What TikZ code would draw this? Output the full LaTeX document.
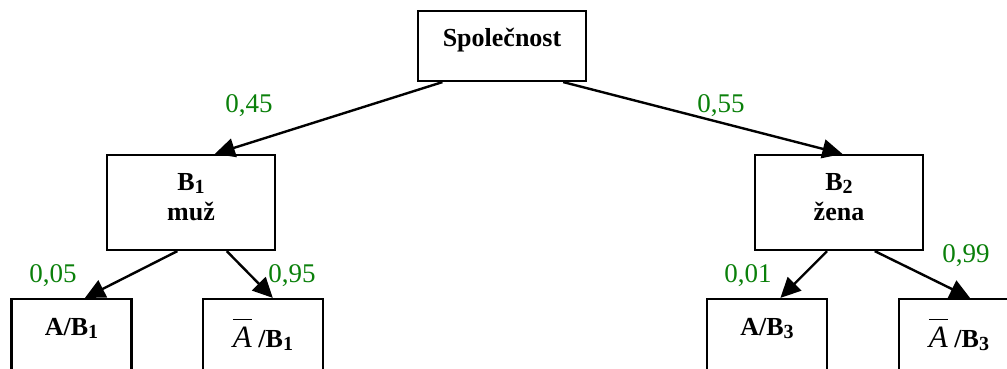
\documentclass[tikz,border=0pt]{standalone}
\usepackage{fontspec}
\setmainfont{Liberation Serif}
\usetikzlibrary{calc}
\usetikzlibrary{arrows.meta}

\definecolor{probgreen}{RGB}{10,128,10}
\newcommand{\idx}[1]{\raisebox{-0.25ex}{\fontsize{20}{20}\selectfont#1}}
\newcommand{\nonA}{\vbox{\hrule height 1.3pt width 19pt \kern 7pt \hbox{\fontsize{31}{31}\selectfont\mdseries\itshape A}}}

\begin{document}
\begin{tikzpicture}[x=1pt, y=-1pt,
    box/.style={rectangle, draw=black, line width=2.2pt, minimum width=168pt, minimum height=95pt},
    leaf/.style={rectangle, draw=black, line width=2.2pt, minimum width=120pt, minimum height=120pt},
    txt/.style={inner sep=0pt, align=center, font=\bfseries\fontsize{26}{30}\selectfont},
    prob/.style={inner sep=0pt, text=probgreen, font=\fontsize{27}{30}\selectfont},
    edge/.style={line width=2.4pt, -{Triangle[length=20pt, width=19pt]}}]
            \clip (0, 0) rectangle (1007, 369);
            % levels of the tree
            \node[box, minimum height=70pt,
                label={[txt, anchor=base, yshift=-37pt]north:Společnost}] (root) at (502, 46) {};
            \node[box, label={[txt, anchor=north, yshift=-19pt]north:B\idx{1}\\muž}] (bone) at (191, 202.5) {};
            \node[box, label={[txt, anchor=north, yshift=-19pt]north:B\idx{2}\\žena}] (btwo) at (839, 202.5) {};
            \node[leaf, label={[txt, anchor=base, yshift=-38pt]north:A/B\idx{1}}] (aone) at (71.5, 359) {};
            \node[leaf, label={[txt, anchor=base, yshift=-50pt]north:\nonA\ /B\idx{1}}] (naone) at (263, 359) {};
            \node[leaf, label={[txt, anchor=base, yshift=-38pt]north:A/B\idx{3}}] (athree) at (767, 359) {};
            \node[leaf, label={[txt, anchor=base, yshift=-50pt]north:\nonA\ /B\idx{3}}] (nathree) at (959, 359) {};
            % arrows: from node / where on its bottom / to node / where on its top
            \def\E{root/0.15/bone/0.64, root/0.86/btwo/0.52, bone/0.42/aone/0.61,
                bone/0.71/naone/0.58, btwo/0.43/athree/0.61, btwo/0.71/nathree/0.59}
            \foreach \a/\p/\b/\q in \E
            {
                \draw[edge] ($(\a.south west)!\p!(\a.south east)$) -- ($(\b.north west)!\q!(\b.north east)$);
            }
            % probabilities
            \node[prob] (p45) at (249, 106) {0,45};
            \node[prob] (p55) at (721, 106) {0,55};
            \node[prob] (p05) at (53, 276) {0,05};
            \node[prob] (p95) at (292, 276) {0,95};
            \node[prob] (p01) at (748, 276) {0,01};
            \node[prob] (p99) at (966, 256) {0,99};
        \end{tikzpicture}
\end{document}
